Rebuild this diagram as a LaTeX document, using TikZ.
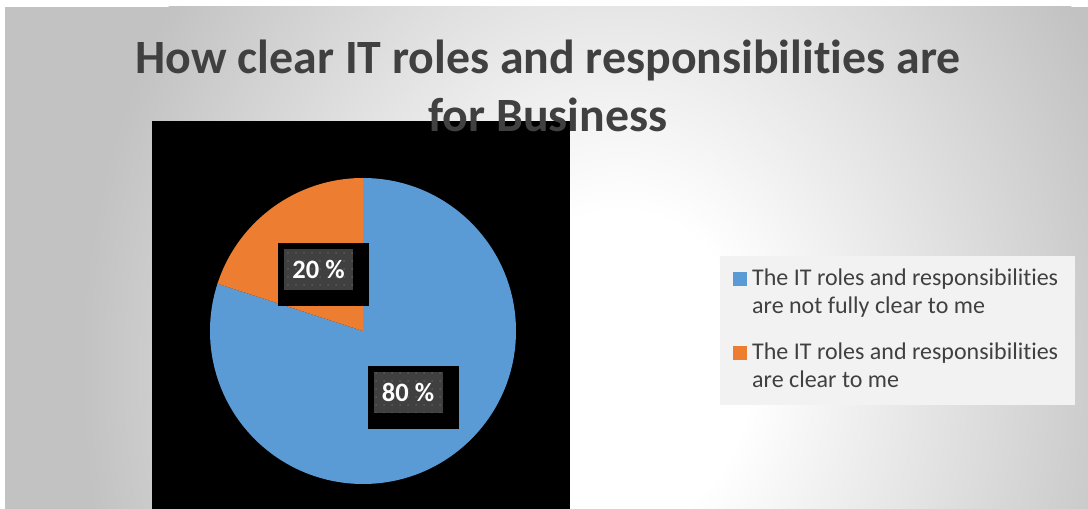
\documentclass[tikz,border=0pt]{standalone}
\usepackage{fontspec}
\setmainfont{Carlito}[Ligatures=NoCommon]
\usetikzlibrary{calc, patterns.meta}

\definecolor{pieBlue}{HTML}{5B9BD5}
\definecolor{pieOrange}{HTML}{ED7D31}
\definecolor{textGray}{HTML}{404040}
\definecolor{legendFill}{HTML}{F2F2F2}
\definecolor{dotGray}{HTML}{5A5A5A}
\definecolor{bgA}{HTML}{FFFFFF}
\definecolor{bgC}{HTML}{C2C2C2}
\pgfdeclareradialshading{chartbg}{\pgfpointorigin}{color(0bp)=(bgA); color(6bp)=(bgA); color(25bp)=(bgC); color(50bp)=(bgC)}

\tikzset{
  titleline/.style={anchor=base, inner sep=0pt, text=textGray, font=\fontsize{47.8}{58}\selectfont\bfseries},
  blackbox/.style={fill=black, minimum width=91pt, minimum height=63pt, inner sep=0pt},
  pctlabel/.style={anchor=north west, fill=textGray, postaction={pattern={Dots[distance=8pt, radius=1pt]}, pattern color=dotGray},
    minimum width=69pt, minimum height=41pt, inner sep=0pt, text=white, font=\fontsize{26.5}{30}\selectfont\bfseries},
  legkey/.style={anchor=south west, minimum size=14pt, inner sep=0pt},
  legtext/.style={anchor=base west, align=left, inner sep=0pt, text=textGray, font=\fontsize{24}{28}\selectfont},
}

\begin{document}
\begin{tikzpicture}[x=1pt, y=1pt]

 %% Parameters
\def\pieR{153}
\useasboundingbox (0,0) rectangle (1088,509);
\fill[white] (0,0) rectangle (1088,509);

%% chart background
\begin{scope}
  \clip (5,0) rectangle (1088,502);
  \fill[bgC] (5,0) rectangle (1088,502);
  \shade[shading=chartbg] (620,140) ellipse [x radius=540, y radius=660];
\end{scope}

%% plot area
\node[fill=black, anchor=south west, minimum width=418pt, minimum height=388pt, inner sep=0pt] (plotarea) at (152,0) {};

%% pie
\coordinate (pc) at (363,178);
\fill[pieBlue] (pc) -- ++(90:\pieR) arc[start angle=90, end angle=-198, radius=\pieR] -- cycle;
\fill[pieOrange] (pc) -- ++(90:\pieR) arc[start angle=90, end angle=162, radius=\pieR] -- cycle;

%% data labels
\node[blackbox] (box20) at (323.5,234.5) {};
\node[pctlabel] (lbl20) at ($(box20.north west)+(6,-6)$) {20 \%};
\node[blackbox] (box80) at (413,111.5) {};
\node[pctlabel] (lbl80) at ($(box80.north west)+(6,-6)$) {80 \%};

%% title
\node[titleline] (title1) at (548,435) {How clear IT roles and responsibilities are};
\node[titleline] (title2) at (548,377) {for Business};

%% legend
\node[fill=legendFill, anchor=south west, minimum width=355pt, minimum height=149pt, inner sep=0pt] (legend) at (720,104) {};
\node[legkey, fill=pieBlue] (keyblue) at (733,223) {};
\node[legtext] (txtblue) at (752,195) {The IT roles and responsibilities\\are not fully clear to me};
\node[legkey, fill=pieOrange] (keyorange) at (733,149) {};
\node[legtext] (txtorange) at (752,121) {The IT roles and responsibilities\\are clear to me};

\end{tikzpicture}
\end{document}
